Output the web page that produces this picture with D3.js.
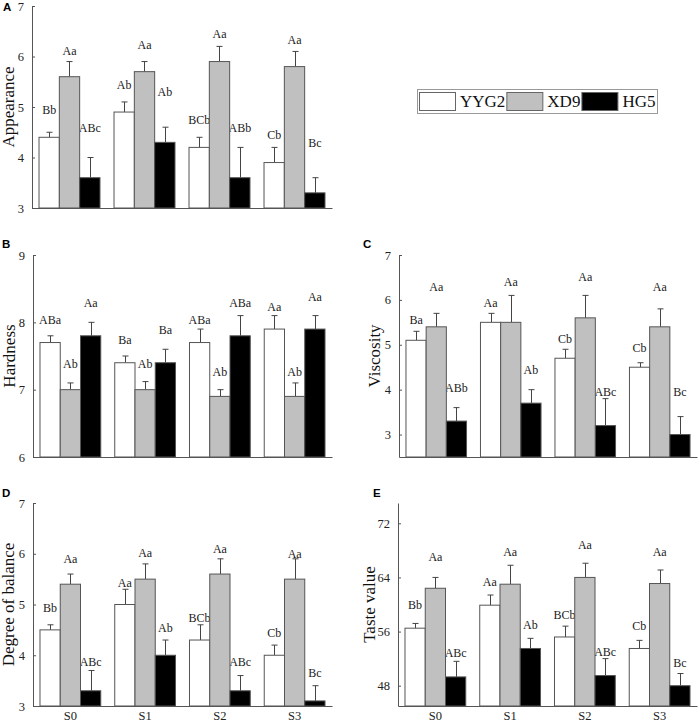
<!DOCTYPE html>
<html><head><meta charset="utf-8">
<script src="https://cdn.jsdelivr.net/npm/d3@7"></script>
<style>
body{margin:0;background:#fff;}
svg{display:block;}
</style></head>
<body>
<svg id="chart" width="700" height="722"></svg>
<script>
// ---------- DATA ----------
const categories = ["S0", "S1", "S2", "S3"];
const series = ["YYG2", "XD9", "HG5"];

const appearanceTicks = [3, 4, 5, 6, 7];
const appearanceMean = [[4.4, 4.9, 4.2, 3.9], [5.6, 5.7, 5.9, 5.8], [3.6, 4.3, 3.6, 3.3]];
const appearanceErr  = [[0.1, 0.2, 0.2, 0.3], [0.3, 0.2, 0.3, 0.3], [0.4, 0.3, 0.6, 0.3]];
const appearanceSig  = [["Bb", "Ab", "BCb", "Cb"], ["Aa", "Aa", "Aa", "Aa"], ["ABc", "Ab", "ABb", "Bc"]];
const appearanceLabelY = [[4.86, 5.35, 4.66, 4.36], [6.02, 6.14, 6.36, 6.25], [4.51, 5.22, 4.51, 4.21]];

const hardnessTicks = [6, 7, 8, 9];
const hardnessMean = [[7.7, 7.4, 7.7, 7.9], [7.0, 7.0, 6.9, 6.9], [7.8, 7.4, 7.8, 7.9]];
const hardnessErr  = [[0.1, 0.1, 0.2, 0.2], [0.1, 0.12, 0.1, 0.2], [0.2, 0.2, 0.3, 0.2]];
const hardnessSig  = [["ABa", "Ba", "ABa", "Aa"], ["Ab", "Ab", "Ab", "Ab"], ["Aa", "Ba", "ABa", "Aa"]];
const hardnessLabelY = [[7.98, 7.68, 7.98, 8.17], [7.32, 7.32, 7.21, 7.21], [8.23, 7.83, 8.23, 8.32]];

const viscosityTicks = [3, 4, 5, 6, 7];
const viscosityMean = [[5.1, 5.5, 4.7, 4.5], [5.4, 5.5, 5.6, 5.4], [3.3, 3.7, 3.2, 3.0]];
const viscosityErr  = [[0.2, 0.2, 0.2, 0.1], [0.3, 0.6, 0.5, 0.4], [0.3, 0.3, 0.6, 0.4]];
const viscositySig  = [["Ba", "Aa", "Cb", "Cb"], ["Aa", "Aa", "Aa", "Aa"], ["ABb", "Ab", "ABc", "Bc"]];
const viscosityLabelY = [[5.47, 5.85, 5.05, 4.85], [6.2, 6.31, 6.41, 6.2], [3.95, 4.36, 3.85, 3.85]];

const balanceTicks = [3, 4, 5, 6, 7];
const balanceMean = [[4.5, 5.0, 4.3, 4.0], [5.4, 5.5, 5.6, 5.5], [3.3, 4.0, 3.3, 3.1]];
const balanceErr  = [[0.1, 0.3, 0.3, 0.2], [0.2, 0.3, 0.3, 0.4], [0.4, 0.3, 0.3, 0.3]];
const balanceSig  = [["Bb", "Aa", "BCb", "Cb"], ["Aa", "Aa", "Aa", "Aa"], ["ABc", "Ab", "ABc", "Bc"]];
const balanceLabelY = [[4.85, 5.34, 4.65, 4.35], [5.82, 5.93, 6.01, 5.92], [3.78, 4.45, 3.78, 3.57]];

const tasteTicks = [48, 56, 64, 72];
const tasteMean = [[56.5, 59.9, 55.2, 53.5], [62.4, 63.0, 64.0, 63.1], [49.3, 53.5, 49.5, 48.0]];
const tasteErr  = [[0.7, 1.5, 1.6, 1.2], [1.6, 2.8, 2.1, 2.0], [2.3, 1.5, 2.5, 1.8]];
const tasteSig  = [["Bb", "Aa", "BCb", "Cb"], ["Aa", "Aa", "Aa", "Aa"], ["ABc", "Ab", "ABc", "Bc"]];
const tasteLabelY = [[59.3, 62.7, 57.9, 56.2], [66.4, 67.1, 68.2, 67.2], [52.2, 56.4, 52.4, 50.8]];

// ---------- LAYOUT / STYLE ----------
const fills = ["#ffffff", "#c0c0c0", "#000000"];
const serif = "'Liberation Serif','Times New Roman',Times,serif";
const sans = "'Liberation Sans',Arial,sans-serif";

const panels = [
  {letter: "A", title: "Appearance", mean: appearanceMean, err: appearanceErr, sig: appearanceSig, ly: appearanceLabelY,
   ticks: appearanceTicks, domain: [3, 7], x0: 32, x1: 332, yTop: 6, yBot: 208, titleX: 14, lx: 3, lyPos: 11, xLabels: false},
  {letter: "B", title: "Hardness", mean: hardnessMean, err: hardnessErr, sig: hardnessSig, ly: hardnessLabelY,
   ticks: hardnessTicks, domain: [6, 9], x0: 33, x1: 332, yTop: 255, yBot: 457, titleX: 15, lx: 2, lyPos: 248, xLabels: false},
  {letter: "C", title: "Viscosity", mean: viscosityMean, err: viscosityErr, sig: viscositySig, ly: viscosityLabelY,
   ticks: viscosityTicks, domain: [2.5, 7], x0: 399, x1: 697, yTop: 255, yBot: 457, titleX: 380, lx: 363, lyPos: 248, xLabels: false},
  {letter: "D", title: "Degree of balance", mean: balanceMean, err: balanceErr, sig: balanceSig, ly: balanceLabelY,
   ticks: balanceTicks, domain: [3, 7], x0: 33, x1: 332, yTop: 503, yBot: 706, titleX: 14, lx: 2, lyPos: 497, xLabels: true},
  {letter: "E", title: "Taste value", mean: tasteMean, err: tasteErr, sig: tasteSig, ly: tasteLabelY,
   ticks: tasteTicks, domain: [45, 75], x0: 398, x1: 697, yTop: 503, yBot: 706, titleX: 375, lx: 373, lyPos: 497, xLabels: true}
];

const svg = d3.select("#chart");

panels.forEach(p => {
  const g = svg.append("g");
  const y = d3.scaleLinear().domain(p.domain).range([p.yBot, p.yTop]);
  const x = d3.scaleBand().domain(categories).range([p.x0, p.x1]).paddingInner(0.187).paddingOuter(0.0935);
  const xs = d3.scaleBand().domain(series).range([0, x.bandwidth()]).padding(0);

  g.append("text").attr("x", p.lx).attr("y", p.lyPos).text(p.letter)
    .attr("font-family", sans).attr("font-weight", "bold").attr("font-size", 11.5).attr("fill", "#000");

  g.append("text").attr("transform", `translate(${p.titleX},${(p.yTop + p.yBot) / 2}) rotate(-90)`)
    .attr("text-anchor", "middle").attr("font-family", serif).attr("font-size", 17).attr("fill", "#111").text(p.title);

  // significance labels (drawn first, bars overlap them)
  series.forEach((s, si) => {
    g.append("g").selectAll("text").data(categories).join("text")
      .attr("x", c => x(c) + xs(s) + xs.bandwidth() / 2)
      .attr("y", (c, ci) => y(p.ly[si][ci]))
      .attr("text-anchor", "middle")
      .attr("font-family", serif).attr("font-size", 12).attr("fill", "#222")
      .text((c, ci) => p.sig[si][ci]);
  });

  // error bars
  series.forEach((s, si) => {
    const eg = g.append("g").attr("stroke", "#444").attr("stroke-width", 1);
    categories.forEach((c, ci) => {
      const cx = Math.round(x(c) + xs(s) + xs.bandwidth() / 2) + 0.5;
      const top = y(p.mean[si][ci] + p.err[si][ci]);
      eg.append("line").attr("x1", cx).attr("x2", cx).attr("y1", y(p.mean[si][ci])).attr("y2", top);
      eg.append("line").attr("x1", cx - 3).attr("x2", cx + 3).attr("y1", top).attr("y2", top);
    });
  });

  // bars
  series.forEach((s, si) => {
    g.append("g").selectAll("rect").data(categories).join("rect")
      .attr("x", c => x(c) + xs(s))
      .attr("width", xs.bandwidth())
      .attr("y", (c, ci) => y(p.mean[si][ci]))
      .attr("height", (c, ci) => y(p.domain[0]) - y(p.mean[si][ci]))
      .attr("fill", fills[si])
      .attr("stroke", "#555").attr("stroke-width", 1);
  });

  const ya = g.append("g").attr("transform", `translate(${p.x0},0)`)
    .call(d3.axisLeft(y).tickValues(p.ticks).tickSizeInner(-3).tickSizeOuter(0).tickPadding(8).tickFormat(d3.format("d")));
  ya.select(".domain").attr("stroke", "#555");
  ya.selectAll(".tick line").attr("stroke", "#555");
  ya.selectAll(".tick text").attr("font-family", serif).attr("font-size", 12.5).attr("fill", "#222");

  const xa = g.append("g").attr("transform", `translate(0,${p.yBot})`)
    .call(d3.axisBottom(x).tickSize(0).tickPadding(5).tickFormat(p.xLabels ? (d => d) : () => ""));
  xa.select(".domain").attr("stroke", "#555");
  xa.selectAll(".tick text").attr("font-family", serif).attr("font-size", 12.5).attr("fill", "#222");
});

// legend: swatch, label, then next swatch right after label
const leg = svg.append("g");
leg.append("rect").attr("x", 417.5).attr("y", 89.5).attr("width", 240).attr("height", 24)
  .attr("fill", "#fff").attr("stroke", "#999").attr("stroke-width", 1);
let cursor = 419;
series.forEach((s, si) => {
  leg.append("rect").attr("x", cursor + 0.5).attr("y", 92.5).attr("width", 36).attr("height", 18)
    .attr("fill", fills[si]).attr("stroke", "#666").attr("stroke-width", 1);
  const t = leg.append("text").attr("x", cursor + 41).attr("y", 107).text(s)
    .attr("font-family", serif).attr("font-size", 17).attr("fill", "#111");
  cursor = cursor + 41 + t.node().getComputedTextLength() + 1;
});
</script>
</body></html>
